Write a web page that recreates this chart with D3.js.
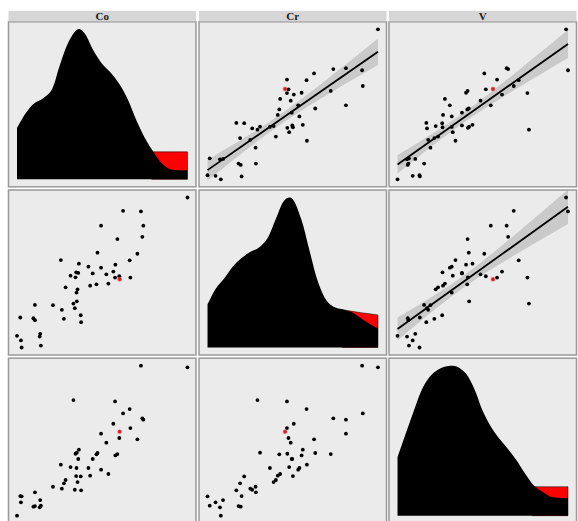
<!DOCTYPE html>
<html><head><meta charset="utf-8">
<script src="https://cdn.jsdelivr.net/npm/d3@7"></script>
<style>body{margin:0;background:#fff}svg{display:block}</style>
</head><body><svg id="c" width="578" height="521"></svg>
<script>
const variables = ["Co","Cr","V"];
const Co = [100,62.2,72.7,49.3,74.1,58.9,73.5,47.2,70.6,25.7,66.1,36.3,41.9,49.3,57.7,34.7,35.9,44.4,52.4,56.5,31.4,34.3,60.0,57.5,66.5,60.2,28.5,42.9,46.6,53.6,35.5,34.9,10.5,21.1,35.1,33.1,26.3,33.9,1.9,9.6,10.5,27.5,37.4,37.6,13.6,13.3,0,2.3,2.7,14.0];
const Cr = [100,91.1,90.7,81.2,81.2,72.3,73.8,63.2,62.5,58.3,58.1,55.9,53.9,53.2,55.2,50.1,49.7,49.4,48.8,50.6,47.9,46.8,47.5,46.6,46.6,45.5,40.1,41.2,42.1,42.6,38.8,36.6,28.4,28.2,30.8,29.3,25.1,26.2,20.0,19.5,18.2,19.1,21.5,16.9,9.1,7.3,7.8,4.7,0,1.3];
const V = [98.9,68.2,100,54.7,64.0,41.1,64.9,41.8,50.9,34.0,71.1,44.0,31.8,30.7,40.2,26.4,37.8,37.8,48.7,61.3,32.4,41.3,51.8,76.2,58.4,56.0,23.8,26.7,40.9,27.8,22.4,31.8,15.6,19.3,42.0,77.1,18.0,17.3,13.1,6.0,6.4,21.6,26.2,16.9,10.4,5.6,0,8.9,12.9,6.7];
const group = ["A","A","A","A","A","A","A","A","A","A","A","A","A","A","A","A","A","A","A","A","A","A","A","A","A","B","A","A","A","A","A","A","A","A","A","A","A","A","A","A","A","A","A","A","A","A","A","A","A","A"];

// density curves (relative density, black group and red group top)
const densCoX = [0,5,10,15,20,25,30,35,37,40,45,50,55,60,65,70,75,80,85,90,95,100];
const densCoY = [0.343,0.439,0.506,0.537,0.590,0.757,0.911,0.996,1.0,0.967,0.855,0.768,0.710,0.635,0.532,0.394,0.276,0.183,0.105,0.067,0.060,0.060];
const densCrX = [0,5,10,15,20,25,30,35,40,45,48,50,55,60,65,70,75,80,85,90,95,100];
const densCrY = [0.286,0.395,0.464,0.542,0.596,0.636,0.665,0.725,0.855,0.980,1.0,0.989,0.855,0.638,0.431,0.310,0.266,0.252,0.234,0.196,0.158,0.127];
const densVX = [0,5,10,15,20,25,30,32,35,40,45,50,55,60,65,70,75,80,85,90,95,100];
const densVY = [0.389,0.553,0.713,0.858,0.940,0.982,0.998,1.0,0.993,0.949,0.847,0.698,0.589,0.509,0.442,0.367,0.278,0.202,0.160,0.127,0.120,0.116];
const redCoX = [79,85,90,95,100];
const redCoY = [0.183,0.183,0.183,0.183,0.183];
const redCrX = [79,85,90,95,100];
const redCrY = [0.252,0.241,0.232,0.225,0.217];
const redVX = [79,85,90,95,100];
const redVY = [0.193,0.193,0.193,0.193,0.193];

const values = {Co, Cr, V};
const dens = {
  Co: {x: densCoX, y: densCoY, rx: redCoX, ry: redCoY},
  Cr: {x: densCrX, y: densCrY, rx: redCrX, ry: redCrY},
  V:  {x: densVX,  y: densVY,  rx: redVX,  ry: redVY}
};

const svg = d3.select("#c");
const colLeft = [8.5, 199, 389];
const rowTop = [21.8, 190, 358.2];
const pw = 187.5, ph = 165;

const defs = svg.append("defs");

function linreg(xs, ys) {
  const n = xs.length;
  const mx = d3.mean(xs), my = d3.mean(ys);
  let sxx = 0, sxy = 0;
  for (let i = 0; i < n; i++) { sxx += (xs[i]-mx)**2; sxy += (xs[i]-mx)*(ys[i]-my); }
  const b = sxy / sxx, a = my - b * mx;
  let sse = 0;
  for (let i = 0; i < n; i++) sse += (ys[i] - a - b*xs[i])**2;
  const s = Math.sqrt(sse / (n - 2));
  return {a, b, s, n, mx, sxx};
}

variables.forEach((rv, ri) => {
  variables.forEach((cv, ci) => {
    const x0 = colLeft[ci], y0 = rowTop[ri];
    const g = svg.append("g").attr("transform", `translate(${x0},${y0})`);
    const cid = `clip${ri}${ci}`;
    defs.append("clipPath").attr("id", cid).append("rect").attr("width", pw).attr("height", ph);
    g.append("rect").attr("width", pw).attr("height", ph).attr("fill", "#ebebeb");
    const inner = g.append("g").attr("clip-path", `url(#${cid})`);
    const xs = d3.scaleLinear().domain([-5, 105]).range([0, pw]);

    if (ri === ci) {
      const d = dens[cv];
      const ys = d3.scaleLinear().domain([-0.05, 1.05]).range([ph, 0]);
      const redPts = d.rx.map((x, i) => [x, d.ry[i]]);
      inner.append("path").datum(redPts)
        .attr("d", d3.area().x(p => xs(p[0])).y0(ys(0)).y1(p => ys(p[1])))
        .attr("fill", "#ff0000").attr("stroke", "#000").attr("stroke-width", 0.5);
      const pts = d.x.map((x, i) => [x, d.y[i]]);
      inner.append("path").datum(pts)
        .attr("d", d3.area().x(p => xs(p[0])).y0(ys(0)).y1(p => ys(p[1])).curve(d3.curveCatmullRom))
        .attr("fill", "#000");
    } else {
      const ys = d3.scaleLinear().domain([-5, 105]).range([ph, 0]);
      const X = values[cv], Y = values[rv];
      if (ci > ri) {
        const r = linreg(X, Y);
        const t = 2.0106;
        const grid = d3.range(0, 100.01, 2);
        const band = grid.map(x => {
          const f = r.a + r.b * x;
          const se = r.s * Math.sqrt(1 / r.n + (x - r.mx) ** 2 / r.sxx);
          return [x, f - t * se, f + t * se];
        });
        inner.append("path").datum(band)
          .attr("d", d3.area().x(p => xs(p[0])).y0(p => ys(p[1])).y1(p => ys(p[2])))
          .attr("fill", "#999999").attr("fill-opacity", 0.4);
        inner.append("line")
          .attr("x1", xs(0)).attr("y1", ys(r.a))
          .attr("x2", xs(100)).attr("y2", ys(r.a + r.b * 100))
          .attr("stroke", "#000").attr("stroke-width", 1.8);
      }
      const idx = d3.range(X.length).sort((i, j) => (group[i] === "B") - (group[j] === "B"));
      inner.selectAll("circle").data(idx).join("circle")
        .attr("cx", i => xs(X[i])).attr("cy", i => ys(Y[i])).attr("r", 1.9)
        .attr("fill", i => group[i] === "B" ? "#c8202a" : "#000")
        .attr("stroke", i => group[i] === "B" ? "rgba(255,90,90,0.45)" : "none")
        .attr("stroke-width", 1.2);
    }
    g.append("rect").attr("width", pw).attr("height", ph)
      .attr("fill", "none").attr("stroke", "#9a9a9a").attr("stroke-width", 1.5);
  });
});

// strips (column labels)
variables.forEach((v, ci) => {
  const x0 = colLeft[ci];
  svg.append("rect").attr("x", x0).attr("y", 10.8).attr("width", pw).attr("height", 10.6)
    .attr("fill", "#d6d6d6");
  svg.append("text").attr("x", x0 + pw / 2).attr("y", 19.6)
    .attr("text-anchor", "middle")
    .attr("font-family", "'Liberation Serif', 'DejaVu Serif', serif")
    .attr("font-weight", "bold").attr("font-size", 11).attr("fill", "#1a1a1a")
    .text(v);
});
</script>
</body></html>
